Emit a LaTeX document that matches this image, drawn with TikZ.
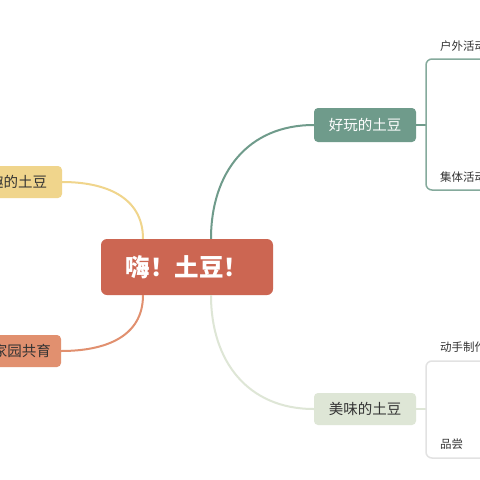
\documentclass[tikz,border=0pt]{standalone}
\usepackage{fontspec}
\setmainfont{Noto Sans CJK SC}
\usetikzlibrary{positioning,calc}
\definecolor{hubred}{HTML}{CC6652}
\definecolor{sage}{HTML}{6F9B8B}
\definecolor{palegreen}{HTML}{DEE6D6}
\definecolor{sand}{HTML}{F0D58C}
\definecolor{peach}{HTML}{E1906F}
\definecolor{inkC}{HTML}{333333}
\definecolor{frameG}{HTML}{E2E2E2}
\tikzset{
  topic/.style={rectangle, rounded corners=4pt, fill=#1, minimum height=32pt,
                inner sep=0pt, font=\fontsize{14.5}{14.5}\selectfont},
  link/.style={draw=#1, line width=2pt, looseness=1.1},
  leaf/.style={anchor=west, inner sep=0pt, text=inkC, font=\fontsize{11.5}{11.5}\selectfont},
}
\begin{document}
\begin{tikzpicture}[x=1pt, y=-1pt]
    \useasboundingbox (0,0) rectangle (480,480);
    \clip (0,0) rectangle (480,480);
    \fill[white] (0,0) rectangle (480,480);
    % centre
    \node[topic=hubred, minimum width=172pt, minimum height=56pt, rounded corners=6pt,
          text=white, font=\fontsize{24.5}{24.5}\selectfont\bfseries] (hub) at (187,267) {嗨！土豆！};
    % branches
    \node[topic=sage, minimum width=102pt, minimum height=34pt, text=white] (play) at (365,125) {好玩的土豆};
    \node[topic=palegreen, minimum width=102pt, text=inkC] (taste) at (365,409) {美味的土豆};
    \node[topic=sand, minimum width=102pt, text=inkC] (fun) at (11,182) {有趣的土豆};
    \node[topic=peach, minimum width=78pt, text=inkC] (home) at (22,351) {家园共育};
    \draw[link=sage] ([xshift=24pt]hub.north) to[out=90, in=180] (play.west);
    \draw[link=palegreen] ([xshift=24pt]hub.south) to[out=-90, in=180] (taste.west);
    \draw[link=sand] ([xshift=-44pt]hub.north) to[out=90, in=0] (fun.east);
    \draw[link=peach] ([xshift=-44pt]hub.south) to[out=-90, in=0] (home.east);
    % brackets
    \coordinate (pb) at (426,125);
    \coordinate (tb) at (426,409);
    \draw[draw=sage, line width=1.5pt] (play.east) -- (pb);
    \draw[draw=sage!85, line width=1.5pt, rounded corners=6pt] (490,59) -- (426,59) -- (426,190) -- (490,190);
    \draw[draw=palegreen, line width=1.5pt] (taste.east) -- (tb);
    \draw[draw=frameG, line width=1.5pt, rounded corners=6pt] (490,361) -- (426,361) -- (426,458) -- (490,458);
    % leaves
    \node[leaf] (out) at (440,46) {户外活动};
    \node[leaf] (grp) at (440,177) {集体活动};
    \node[leaf] (make) at (440,347) {动手制作};
    \node[leaf] (eat) at (440,444) {品尝};
\end{tikzpicture}
\end{document}
